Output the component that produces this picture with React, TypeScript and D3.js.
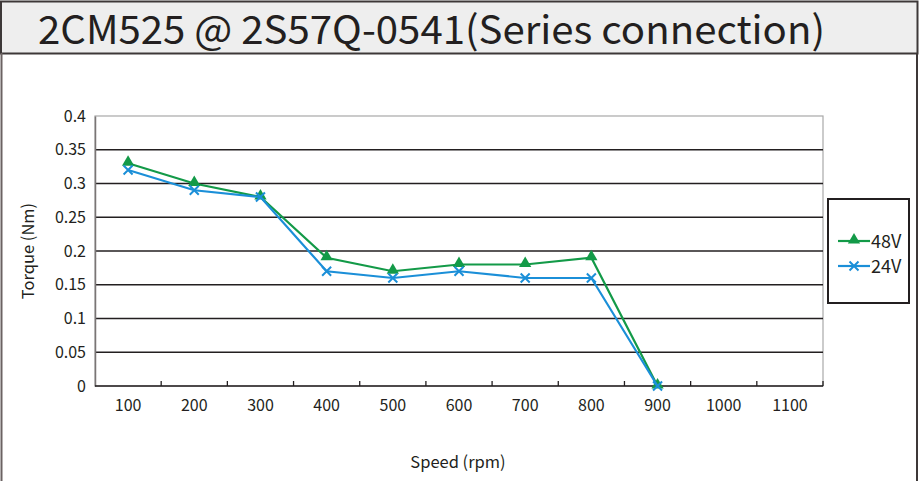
import React, {useEffect, useRef} from 'react';
import * as d3 from 'd3';

const speeds = ['100', '200', '300', '400', '500', '600', '700', '800', '900', '1000', '1100'];
const torque48 = [0.33, 0.30, 0.28, 0.19, 0.17, 0.18, 0.18, 0.19, 0];
const torque24 = [0.32, 0.29, 0.28, 0.17, 0.16, 0.17, 0.16, 0.16, 0];
const yTicks = [0, 0.05, 0.1, 0.15, 0.2, 0.25, 0.3, 0.35, 0.4];
const seriesNames = ['48V', '24V'];

const W = 919;
const H = 481;
const left = 95, right = 823, top = 116, bottom = 386;
const ink = '#231f20';
const green = '#139a48';
const blue = '#1b8fd8';
const font = '"Noto Sans CJK SC", "Noto Sans", sans-serif';

const App: React.FC = () => {
    const ref = useRef<SVGSVGElement>(null);
    useEffect(() => {
        const svg = d3.select(ref.current);
        svg.selectAll('*').remove();

        const x = d3.scaleBand().domain(speeds).range([left, right]);
        const y = d3.scaleLinear().domain([0, 0.4]).range([bottom, top]);

        // frame + title band
        svg.append('rect').attr('x', 0).attr('y', 0).attr('width', W).attr('height', H).attr('fill', '#fff');
        svg.append('rect').attr('x', 1).attr('y', 1.5).attr('width', 916.5).attr('height', 52)
            .attr('fill', '#eeeeee').attr('stroke', '#3d3838').attr('stroke-width', 2);
        svg.append('line').attr('x1', 1.5).attr('x2', 1.5).attr('y1', 53).attr('y2', H).attr('stroke', '#6b6262').attr('stroke-width', 2);
        svg.append('line').attr('x1', 917).attr('x2', 917).attr('y1', 53).attr('y2', H).attr('stroke', '#3d3838').attr('stroke-width', 2);
        svg.append('text').attr('x', 38).attr('y', 44).attr('font-family', font).attr('font-size', 39)
            .attr('fill', ink).attr('textLength', 787).attr('lengthAdjust', 'spacingAndGlyphs')
            .text('2CM525 @ 2S57Q-0541(Series connection)');

        // plot border
        svg.append('rect').attr('x', left).attr('y', top).attr('width', right - left).attr('height', bottom - top)
            .attr('fill', 'none').attr('stroke', '#a8a8a8').attr('stroke-width', 1.2);

        // gridlines
        svg.selectAll('.grid').data(yTicks.filter((t) => t > 0 && t < 0.4)).enter().append('line')
            .attr('x1', left).attr('x2', right).attr('y1', (d) => y(d)).attr('y2', (d) => y(d))
            .attr('stroke', ink).attr('stroke-width', 1.3);

        // y axis
        const yAxis = svg.append('g').attr('transform', `translate(${left},0)`)
            .call(d3.axisLeft(y).tickValues(yTicks).tickSize(0).tickPadding(9).tickFormat((d) => String(+d)));
        yAxis.select('.domain').attr('stroke', '#7a7575').attr('stroke-width', 1.5);
        yAxis.selectAll('text').attr('font-family', font).attr('font-size', 16).attr('fill', ink);

        // x axis: ticks at band boundaries pointing up
        const xAxis = svg.append('g').attr('transform', `translate(0,${bottom})`)
            .call(d3.axisBottom(x).tickSize(0).tickPadding(14));
        xAxis.select('.domain').remove();
        xAxis.selectAll('text').attr('font-family', font).attr('font-size', 16).attr('fill', ink);
        svg.append('line').attr('x1', left).attr('x2', right).attr('y1', bottom).attr('y2', bottom)
            .attr('stroke', ink).attr('stroke-width', 1.5);
        svg.selectAll('.xtick').data(speeds).enter().append('line')
            .attr('x1', (d) => x(d)! + x.bandwidth()).attr('x2', (d) => x(d)! + x.bandwidth())
            .attr('y1', bottom).attr('y2', bottom - 5).attr('stroke', ink).attr('stroke-width', 1.3);

        // axis titles
        svg.append('text').attr('transform', `translate(34,${(top + bottom) / 2}) rotate(-90)`)
            .attr('text-anchor', 'middle').attr('font-family', font).attr('font-size', 16.5).attr('fill', ink)
            .text('Torque (Nm)');
        svg.append('text').attr('x', 458).attr('y', 468).attr('text-anchor', 'middle')
            .attr('font-family', font).attr('font-size', 16.5).attr('fill', ink).text('Speed (rpm)');

        const cx = (i: number) => x(speeds[i])! + x.bandwidth() / 2;
        const line = d3.line<number>().x((_, i) => cx(i)).y((d) => y(d));
        const tri = d3.symbol().type(d3.symbolTriangle).size(65);

        const drawX = (g: d3.Selection<SVGGElement, unknown, null, undefined>, px: number, py: number, r: number) => {
            g.append('path').attr('d', `M${px - r},${py - r}L${px + r},${py + r}M${px - r},${py + r}L${px + r},${py - r}`)
                .attr('stroke', blue).attr('stroke-width', 2).attr('fill', 'none');
        };

        // 48V
        svg.append('path').datum(torque48).attr('d', line).attr('fill', 'none').attr('stroke', green).attr('stroke-width', 2.2);
        svg.selectAll('.m48').data(torque48).enter().append('path')
            .attr('d', tri).attr('transform', (d, i) => `translate(${cx(i)},${y(d) - 1})`).attr('fill', green);

        // 24V
        svg.append('path').datum(torque24).attr('d', line).attr('fill', 'none').attr('stroke', blue).attr('stroke-width', 2.2);
        const g24 = svg.append('g') as any;
        torque24.forEach((d, i) => drawX(g24, cx(i), y(d), 4.5));

        // legend
        svg.append('rect').attr('x', 828).attr('y', 199).attr('width', 81).attr('height', 104)
            .attr('fill', '#fff').attr('stroke', ink).attr('stroke-width', 2);
        seriesNames.forEach((name, i) => {
            const ly = 241 + i * 25;
            const c = i === 0 ? green : blue;
            svg.append('line').attr('x1', 838).attr('x2', 870).attr('y1', ly).attr('y2', ly).attr('stroke', c).attr('stroke-width', 2.2);
            if (i === 0) {
                svg.append('path').attr('d', tri).attr('transform', `translate(854,${ly - 1})`).attr('fill', green);
            } else {
                drawX(svg.append('g') as any, 854, ly, 4.5);
            }
            svg.append('text').attr('x', 871).attr('y', ly + 7).attr('font-family', font).attr('font-size', 18)
                .attr('fill', ink).text(name);
        });
    }, []);

    return <svg ref={ref} width={W} height={H} style={{display: 'block', position: 'absolute', left: 0, top: 0}} />;
};

export default App;
